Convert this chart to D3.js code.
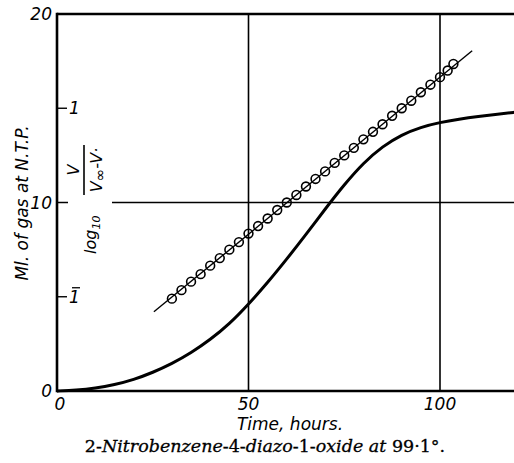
<!DOCTYPE html>
<html>
<head>
<meta charset="utf-8">
<script src="https://d3js.org/d3.v7.min.js"></script>
<style>
  body { margin: 0; background: #fff; }
  svg { display: block; }
</style>
</head>
<body>
<div id="chart"></div>
<script>
// gas evolved (ml at N.T.P.) against time, hours
var curveT  = [0, 5, 10, 15, 20, 25, 30, 35, 40, 45, 50, 55, 60, 65, 70, 75, 80, 85, 90, 95, 100, 105, 110, 115, 120];
var curveMl = [0, 0.04, 0.14, 0.33, 0.6, 0.98, 1.45, 2.02, 2.72, 3.55, 4.6, 5.75, 7.0, 8.3, 9.65, 10.95, 12.1, 12.98, 13.6, 14.0, 14.25, 14.42, 14.56, 14.68, 14.8];

// log10 V/(Vinf - V) points
var logT = [30, 32.5, 35, 37.5, 40, 42.5, 45, 47.5, 50, 52.5, 55, 57.5, 60, 62.5, 65, 67.5, 70, 72.5, 75, 77.5, 80, 82.5, 85, 87.5, 90, 92.5, 95, 97.5, 100, 102, 103.5];
var logV = [-1.02, -0.93, -0.84, -0.76, -0.67, -0.59, -0.50, -0.42, -0.33, -0.25, -0.17, -0.08, 0.0, 0.08, 0.17, 0.25, 0.33, 0.42, 0.50, 0.58, 0.67, 0.75, 0.83, 0.92, 1.0, 1.08, 1.17, 1.25, 1.33, 1.40, 1.47];

// fitted straight line (end points)
var fitT = [25.3, 108.4];
var fitV = [-1.16, 1.61];

var xTicks = [0, 50, 100];
var yTicks = [0, 10, 20];
var logTicks = [1, -1];

var width = 514, height = 463;

var svg = d3.select("#chart").append("svg")
    .attr("width", width)
    .attr("height", height);

var x = d3.scaleLinear().domain([0, 120]).range([57, 516.6]);
var y = d3.scaleLinear().domain([0, 20]).range([391, 14]);
// secondary log scale: 0 sits on the 10 ml line, one unit = 5 ml
var yLog = d3.scaleLinear().domain([-2, 2]).range([y(0), y(20)]);

var sans = "'DejaVu Sans', Verdana, sans-serif";
var serif = "'DejaVu Serif', 'Liberation Serif', serif";

// grid lines
svg.selectAll(".vgrid")
  .data([50, 100])
  .enter().append("line")
  .attr("x1", function(d) { return x(d); })
  .attr("x2", function(d) { return x(d); })
  .attr("y1", y(20))
  .attr("y2", y(0))
  .style("stroke", "#000")
  .style("stroke-width", 1.6);

svg.append("line")
  .attr("x1", x(0)).attr("x2", width)
  .attr("y1", y(10)).attr("y2", y(10))
  .style("stroke", "#000")
  .style("stroke-width", 1.6);

// log label, with a white patch to break the 10 ml grid line
var lab = svg.append("g");
var labText = lab.append("g")
  .attr("transform", "translate(96,254) rotate(-90)")
  .style("font-family", sans)
  .style("font-style", "italic")
  .style("font-size", "16px");

var logTxt = labText.append("text").attr("x", 0).attr("y", 0);
logTxt.append("tspan").text("log");
logTxt.append("tspan").attr("dy", 4).style("font-size", "11px").text("10");

labText.append("text")
  .attr("x", 84).attr("y", -17)
  .attr("text-anchor", "middle")
  .text("V");
labText.append("line")
  .attr("x1", 59).attr("x2", 109)
  .attr("y1", -12).attr("y2", -12)
  .style("stroke", "#000")
  .style("stroke-width", 1.6);
var den = labText.append("text")
  .attr("x", 84).attr("y", 6)
  .attr("text-anchor", "middle");
den.append("tspan").text("V");
den.append("tspan").attr("dy", 3).style("font-size", "15px").text("∞");
den.append("tspan").attr("dy", -3).text("-V·");

lab.insert("rect", ":first-child")
  .attr("x", 68).attr("y", y(10) - 3)
  .attr("width", 44).attr("height", 6)
  .style("fill", "#fff");

// frame
svg.append("line")
  .attr("x1", x(0)).attr("x2", width)
  .attr("y1", y(20)).attr("y2", y(20))
  .style("stroke", "#000").style("stroke-width", 2.6);
svg.append("line")
  .attr("x1", x(0)).attr("x2", width)
  .attr("y1", y(0)).attr("y2", y(0))
  .style("stroke", "#000").style("stroke-width", 2.4);
svg.append("line")
  .attr("x1", x(0)).attr("x2", x(0))
  .attr("y1", y(20) - 1.3).attr("y2", y(0) + 1.2)
  .style("stroke", "#000").style("stroke-width", 2.6);

// tick labels
svg.selectAll(".ylab")
  .data(yTicks)
  .enter().append("text")
  .attr("x", 52)
  .attr("y", function(d) { return y(d) + 6; })
  .attr("text-anchor", "end")
  .style("font-family", sans)
  .style("font-style", "italic")
  .style("font-size", "17px")
  .text(function(d) { return d; });

svg.selectAll(".xlab")
  .data(xTicks)
  .enter().append("text")
  .attr("x", function(d) { return x(d) + (d === 0 ? 3 : 0); })
  .attr("y", 410)
  .attr("text-anchor", "middle")
  .style("font-family", sans)
  .style("font-style", "italic")
  .style("font-size", "17px")
  .text(function(d) { return d; });

// secondary ticks: 1 and 1-bar
svg.selectAll(".ltick")
  .data(logTicks)
  .enter().append("line")
  .attr("x1", x(0)).attr("x2", x(0) + 10)
  .attr("y1", function(d) { return yLog(d); })
  .attr("y2", function(d) { return yLog(d); })
  .style("stroke", "#000").style("stroke-width", 1.4);
svg.selectAll(".llab")
  .data(logTicks)
  .enter().append("text")
  .attr("x", x(0) + 12)
  .attr("y", function(d) { return yLog(d) + 6; })
  .style("font-family", sans)
  .style("font-style", "italic")
  .style("font-size", "17px")
  .text("1");
svg.selectAll(".lbar")
  .data(logTicks.filter(function(d) { return d < 0; }))
  .enter().append("line")
  .attr("x1", x(0) + 15).attr("x2", x(0) + 23)
  .attr("y1", function(d) { return yLog(d) - 9; })
  .attr("y2", function(d) { return yLog(d) - 9; })
  .style("stroke", "#000").style("stroke-width", 1.3);

// fitted line and circles
var fit = d3.range(fitT.length).map(function(i) { return [fitT[i], fitV[i]]; });
svg.append("path")
  .datum(fit)
  .attr("d", d3.line()
    .x(function(d) { return x(d[0]); })
    .y(function(d) { return yLog(d[1]); }))
  .style("fill", "none")
  .style("stroke", "#000")
  .style("stroke-width", 1.4);

var pts = d3.range(logT.length).map(function(i) { return [logT[i], logV[i]]; });
svg.selectAll(".pt")
  .data(pts)
  .enter().append("circle")
  .attr("cx", function(d) { return x(d[0]); })
  .attr("cy", function(d) { return yLog(d[1]); })
  .attr("r", 4.4)
  .style("fill", "none")
  .style("stroke", "#000")
  .style("stroke-width", 1.6);

// gas curve
var cur = d3.range(curveT.length).map(function(i) { return [curveT[i], curveMl[i]]; });
svg.append("path")
  .datum(cur)
  .attr("d", d3.line()
    .curve(d3.curveBasis)
    .x(function(d) { return x(d[0]); })
    .y(function(d) { return y(d[1]); }))
  .style("fill", "none")
  .style("stroke", "#000")
  .style("stroke-width", 3);

// axis titles
svg.append("text")
  .attr("transform", "translate(28,203) rotate(-90)")
  .attr("text-anchor", "middle")
  .style("font-family", sans)
  .style("font-style", "italic")
  .style("font-size", "17px")
  .text("Ml. of gas at N.T.P.");

svg.append("text")
  .attr("x", 290).attr("y", 430)
  .attr("text-anchor", "middle")
  .style("font-family", sans)
  .style("font-style", "italic")
  .style("font-size", "17px")
  .text("Time, hours.");

var cap = svg.append("text")
  .attr("x", 265).attr("y", 452)
  .attr("text-anchor", "middle")
  .style("font-family", serif)
  .style("font-size", "17.5px")
  .style("stroke", "#000")
  .style("stroke-width", 0.3);
var parts = [["2-", false], ["Nitrobenzene", true], ["-4-", false], ["diazo", true],
             ["-1-", false], ["oxide at ", true], ["99·1°.", false]];
parts.forEach(function(p) {
  cap.append("tspan").style("font-style", p[1] ? "italic" : "normal").text(p[0]);
});
</script>
</body>
</html>
